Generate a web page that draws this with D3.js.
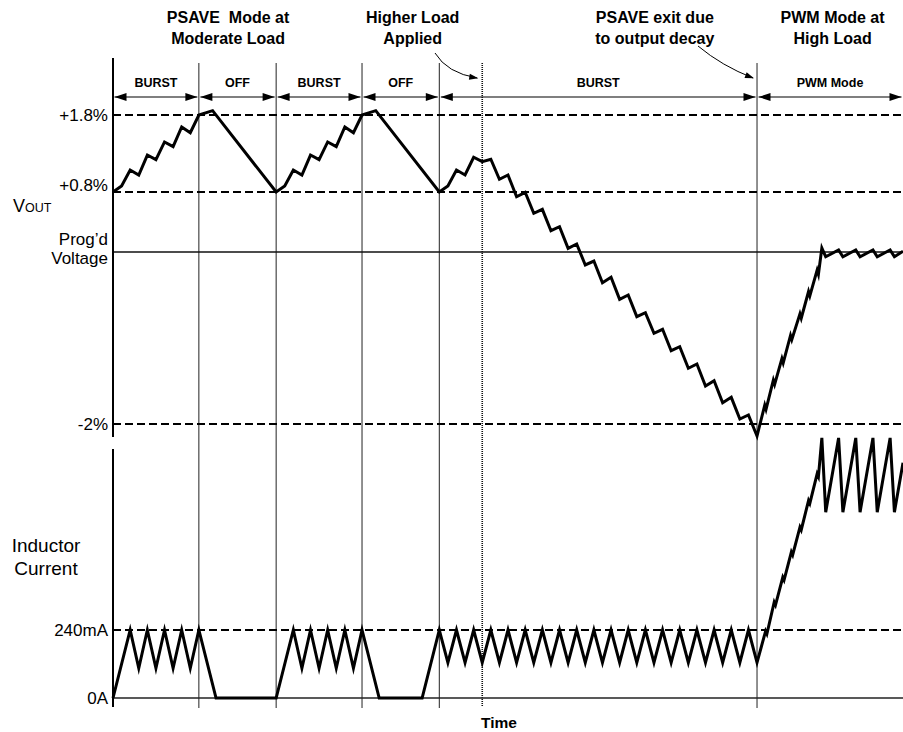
<!DOCTYPE html>
<html><head><meta charset="utf-8">
<script src="https://cdn.jsdelivr.net/npm/d3@7"></script>
<style>
body{margin:0;background:#fff}
svg{display:block}
text{font-family:"Liberation Sans",Arial,Helvetica,sans-serif;fill:#000}
</style>
</head><body>
<svg id="chart" width="903" height="732"></svg>
<script>
// ---------- data ----------
const timeDomain = [0, 92];
const phaseBounds = [0, 10, 19, 29, 38, 75, 92];
const phaseLabels = ["BURST", "OFF", "BURST", "OFF", "BURST", "PWM Mode"];
const loadStepTime = 43;
const psaveExitTime = 75;

const voutLevels = [-2, 0, 0.8, 1.8];
const voutDashedLevels = [1.8, 0.8, -2];
const voutTickLabels = ["-2%", ["Prog\u2019d", "Voltage"], "+0.8%", "+1.8%"];
const currentLevels = [0, 240];
const currentTickLabels = ["0A", "240mA"];

const headerTexts = [
  ["PSAVE  Mode at", "Moderate Load"],
  ["Higher Load", "Applied"],
  ["PSAVE exit due", "to output decay"],
  ["PWM Mode at", "High Load"]
];
const headerTimes = [13.4, 34.9, 63.1, 83.8];

const voutTime = [
  0,1,2,3,4,5,6,7,8,9,10,11.6,19,
  20,21,22,23,24,25,26,27,28,29,30.6,38,
  39,40,41,42,43,44,45,46,47,48,49,50,51,52,53,54,55,56,57,58,59,60,61,62,63,64,65,66,67,68,69,70,71,72,73,74,75,
  75.9,76.05,76.9,77.05,77.9,78.05,78.9,79.05,80,80.15,81,81.15,82,82.15,82.55,
  83,84.5,85,86.5,87,88.5,89,90.5,91,92
];
const voutPct = [
  0.8,0.878,1.086,1.021,1.28,1.22,1.45,1.39,1.645,1.57,1.8,1.856,0.8,
  0.878,1.086,1.021,1.28,1.22,1.45,1.39,1.645,1.57,1.8,1.856,0.8,
  0.878,1.086,1.021,1.251,1.194,1.225,0.965,1.021,0.737,0.796,0.516,0.569,0.284,0.337,0.049,0.107,
  -0.151,-0.105,-0.357,-0.294,-0.55,-0.5,-0.752,-0.706,-0.945,-0.899,-1.148,-1.101,-1.352,-1.302,
  -1.558,-1.497,-1.752,-1.69,-1.942,-1.895,-2.14,
  -1.78,-1.83,-1.49,-1.54,-1.24,-1.29,-0.97,-1.02,-0.72,-0.77,-0.46,-0.51,-0.21,-0.26,0.053,
  -0.055,0.027,-0.055,0.027,-0.055,0.027,-0.055,0.027,-0.055,0.01
];

const currentTime = [
  0,2,3,4,5,6,7,8,9,10,12,19,
  21,22,23,24,25,26,27,28,29,31,36,
  38,39,40,41,42,43,44,45,46,47,48,49,50,51,52,53,54,55,56,
  57,58,59,60,61,62,63,64,65,66,67,68,69,70,71,72,73,74,75,
  76,76.15,77,77.15,78,78.15,79,79.15,80,80.15,81,81.15,82,82.15,82.55,
  83,84.5,85,86.5,87,88.5,89,90.5,91,92
];
const currentMA = [
  0,240,105,240,105,240,105,240,105,240,0,0,
  240,105,240,105,240,105,240,105,240,0,0,
  240,125,240,125,240,125,240,125,240,125,240,125,240,125,240,125,240,125,240,
  125,240,125,240,125,240,125,240,125,240,125,240,125,240,125,240,125,240,125,
  236,226,338,328,426,416,515,505,603,593,697,687,791,781,918,
  656,918,656,918,656,918,656,918,656,830
];

// ---------- scales ----------
const svg = d3.select("#chart");
const x = d3.scaleLinear().domain(timeDomain).range([113, 903]);
const yV = d3.scaleLinear().domain(voutLevels).range([424, 252, 192, 115]);
const yI = d3.scaleLinear().domain(currentLevels).range([698, 630]);

const axisX = x(timeDomain[0]);
const rightX = x(timeDomain[1]);

// ---------- vertical phase lines ----------
const vTop = 63, vBottom = 708;
phaseBounds.slice(1, -1).forEach(t => {
  svg.append("line").attr("x1", x(t)).attr("x2", x(t)).attr("y1", vTop).attr("y2", vBottom)
    .attr("stroke", "#222").attr("stroke-width", 1);
});
svg.append("line").attr("x1", x(loadStepTime)).attr("x2", x(loadStepTime)).attr("y1", vTop).attr("y2", 706)
  .attr("stroke", "#111").attr("stroke-width", 1.6).attr("stroke-dasharray", "1,1");

// ---------- reference lines ----------
voutDashedLevels.forEach(v => {
  svg.append("line").attr("x1", axisX).attr("x2", rightX).attr("y1", yV(v)).attr("y2", yV(v))
    .attr("stroke", "#000").attr("stroke-width", 2).attr("stroke-dasharray", "8,4");
});
svg.append("line").attr("x1", axisX).attr("x2", rightX).attr("y1", yV(0)).attr("y2", yV(0))
  .attr("stroke", "#111").attr("stroke-width", 1.5);
svg.append("line").attr("x1", axisX).attr("x2", rightX).attr("y1", yI(240)).attr("y2", yI(240))
  .attr("stroke", "#000").attr("stroke-width", 2).attr("stroke-dasharray", "8,4");
svg.append("line").attr("x1", axisX).attr("x2", rightX).attr("y1", yI(0)).attr("y2", yI(0))
  .attr("stroke", "#222").attr("stroke-width", 1.5);

// ---------- left axes ----------
svg.append("line").attr("x1", axisX).attr("x2", axisX).attr("y1", 58).attr("y2", 437)
  .attr("stroke", "#000").attr("stroke-width", 2);
svg.append("line").attr("x1", axisX).attr("x2", axisX).attr("y1", 449).attr("y2", 707)
  .attr("stroke", "#000").attr("stroke-width", 2);

// ---------- traces ----------
const voutData = voutTime.map((t, i) => [t, voutPct[i]]);
const currData = currentTime.map((t, i) => [t, currentMA[i]]);
svg.append("path").datum(voutData)
  .attr("d", d3.line().x(d => x(d[0])).y(d => yV(d[1])))
  .attr("fill", "none").attr("stroke", "#000").attr("stroke-width", 3)
  .attr("stroke-linejoin", "miter").attr("stroke-miterlimit", 5);
svg.append("path").datum(currData)
  .attr("d", d3.line().x(d => x(d[0])).y(d => yI(d[1])))
  .attr("fill", "none").attr("stroke", "#000").attr("stroke-width", 3)
  .attr("stroke-linejoin", "miter").attr("stroke-miterlimit", 5);

// ---------- phase arrows ----------
const arrowY = 97, ah = 12, aw = 4;
function head(tipX, dir) {
  svg.append("path")
    .attr("d", `M${tipX},${arrowY} L${tipX - dir * ah},${arrowY - aw} L${tipX - dir * ah},${arrowY + aw} Z`)
    .attr("fill", "#000");
}
for (let i = 0; i < phaseLabels.length; i++) {
  const a = x(phaseBounds[i]) + 1.5, b = x(phaseBounds[i + 1]) - 1.5;
  svg.append("line").attr("x1", a).attr("x2", b).attr("y1", arrowY).attr("y2", arrowY)
    .attr("stroke", "#000").attr("stroke-width", 1.2);
  head(a, -1);
  head(b, 1);
  svg.append("text").attr("x", (x(phaseBounds[i]) + x(phaseBounds[i + 1])) / 2).attr("y", 87)
    .attr("text-anchor", "middle").attr("font-size", 12.5).attr("font-weight", "bold")
    .text(phaseLabels[i]);
}

// ---------- headers ----------
headerTexts.forEach((lines, i) => {
  lines.forEach((s, j) => {
    svg.append("text").attr("x", x(headerTimes[i])).attr("y", 23 + j * 21)
      .attr("text-anchor", "middle").attr("font-size", 16).attr("font-weight", "bold")
      .attr("xml:space", "preserve").style("white-space", "pre")
      .text(s);
  });
});

// curved annotation arrows
function curvedArrow(x0, y0, cx, cy, x1, y1) {
  svg.append("path").attr("d", `M${x0},${y0} Q${cx},${cy} ${x1},${y1}`)
    .attr("fill", "none").attr("stroke", "#000").attr("stroke-width", 1);
  const ang = Math.atan2(y1 - cy, x1 - cx);
  const L = 8, W = 3;
  const bx = x1 - L * Math.cos(ang), by = y1 - L * Math.sin(ang);
  svg.append("path")
    .attr("d", `M${x1 + 1},${y1 + 0.3} L${bx - W * Math.sin(ang)},${by + W * Math.cos(ang)} L${bx + W * Math.sin(ang)},${by - W * Math.cos(ang)} Z`)
    .attr("fill", "#000");
}
curvedArrow(435, 53, 447, 73, x(loadStepTime) - 5, 78);
curvedArrow(698, 46, 722, 66, x(psaveExitTime) - 4, 78);

// ---------- axis labels ----------
const lab = (xx, yy, s, anchor, size) => svg.append("text").attr("x", xx).attr("y", yy)
  .attr("text-anchor", anchor).attr("font-size", size).attr("dominant-baseline", "central").text(s);
lab(108, yV(1.8), voutTickLabels[3], "end", 17);
lab(108, yV(0.8) - 7, voutTickLabels[2], "end", 17);
svg.append("text").attr("x", 108).attr("y", yV(0) - 7).attr("text-anchor", "end").attr("font-size", 17).text(voutTickLabels[1][0]);
svg.append("text").attr("x", 108).attr("y", yV(0) + 12).attr("text-anchor", "end").attr("font-size", 17).text(voutTickLabels[1][1]);
lab(108, yV(-2), voutTickLabels[0], "end", 17);
lab(108, yI(240), currentTickLabels[1], "end", 17);
lab(108, yI(0), currentTickLabels[0], "end", 17);

const vt = svg.append("text").attr("x", 13).attr("y", 212).attr("font-size", 18);
vt.append("tspan").text("V");
vt.append("tspan").attr("font-size", 12.5).text("OUT");

svg.append("text").attr("x", 46).attr("y", 552).attr("text-anchor", "middle").attr("font-size", 19).text("Inductor");
svg.append("text").attr("x", 46).attr("y", 575).attr("text-anchor", "middle").attr("font-size", 19).text("Current");

svg.append("text").attr("x", 499).attr("y", 728).attr("text-anchor", "middle")
  .attr("font-size", 15.5).attr("font-weight", "bold").text("Time");
</script>
</body></html>
